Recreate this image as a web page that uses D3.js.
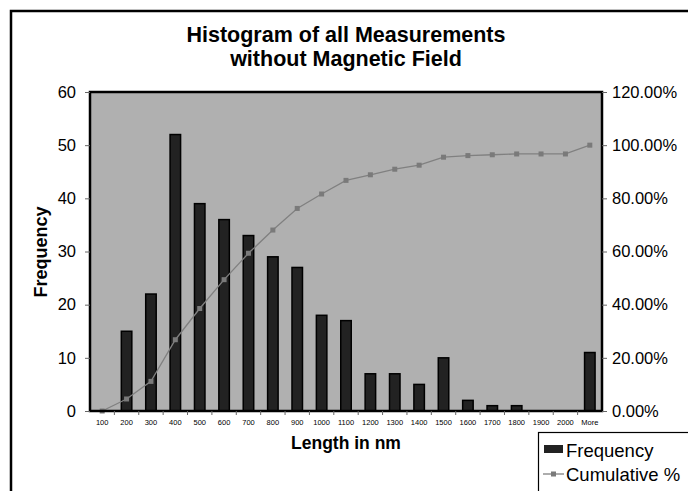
<!DOCTYPE html>
<html><head><meta charset="utf-8">
<script src="https://cdn.jsdelivr.net/npm/d3@7"></script>
<style>body{margin:0;background:#fff;}svg{display:block;font-family:"Liberation Sans",Arial,sans-serif;}</style>
</head><body>
<svg id="c" width="688" height="491"></svg>
<script>
const categories = ["100","200","300","400","500","600","700","800","900","1000","1100","1200","1300","1400","1500","1600","1700","1800","1900","2000","More"];
const frequency = [0,15,22,52,39,36,33,29,27,18,17,7,7,5,10,2,1,1,0,0,11];
const cumulative = [0,4.52,11.14,26.81,38.55,49.40,59.34,68.07,76.20,81.63,86.75,88.86,90.96,92.47,95.48,96.08,96.39,96.69,96.69,96.69,100];
const leftTicks = [0,10,20,30,40,50,60];
const rightTicks = [0,20,40,60,80,100,120];

const svg = d3.select("#c");
const L=90,R=602,T=92,B=411;

// outer chart border
svg.append("rect").attr("x",11).attr("y",11).attr("width",700).attr("height",500)
  .attr("fill","#fff").attr("stroke","#000").attr("stroke-width",2.5);

const x = d3.scaleBand().domain(categories).range([L,R]).paddingInner(0).paddingOuter(0);
const y = d3.scaleLinear().domain([0,60]).range([B,T]);
const y2 = d3.scaleLinear().domain([0,120]).range([B,T]);

// plot area
svg.append("rect").attr("x",L).attr("y",T).attr("width",R-L).attr("height",B-T).attr("fill","#b0b0b0");

// bars
const bw = 10.5;
svg.append("g").selectAll("rect").data(frequency).join("rect")
  .attr("x",(d,i)=>x(categories[i])+x.bandwidth()/2-bw/2)
  .attr("y",d=>y(d)).attr("width",bw).attr("height",d=>B-y(d))
  .attr("fill","#222").attr("stroke","#000").attr("stroke-width",1.5);

// cumulative line
const line = d3.line().x((d,i)=>x(categories[i])+x.bandwidth()/2).y(d=>y2(d));
svg.append("path").datum(cumulative).attr("d",line).attr("fill","none").attr("stroke","#808080").attr("stroke-width",1.3);
svg.append("g").selectAll("rect").data(cumulative).join("rect")
  .attr("x",(d,i)=>x(categories[i])+x.bandwidth()/2-2.5).attr("y",d=>y2(d)-2.5)
  .attr("width",5).attr("height",5).attr("fill","#7a7a7a");

// plot border
svg.append("rect").attr("x",L).attr("y",T).attr("width",R-L).attr("height",B-T)
  .attr("fill","none").attr("stroke","#000").attr("stroke-width",2.5);

const FF = "Liberation Sans, Arial, sans-serif";
// left axis
const ga = svg.append("g").attr("transform",`translate(${L},0)`)
  .call(d3.axisLeft(y).tickValues(leftTicks).tickSize(5).tickPadding(9));
ga.select(".domain").remove();
ga.selectAll("line").attr("stroke","#666");
ga.selectAll("text").attr("font-size",16.5).attr("fill","#000").attr("font-family",FF);

// right axis
const gr = svg.append("g").attr("transform",`translate(${R},0)`)
  .call(d3.axisRight(y2).tickValues(rightTicks).tickSize(5).tickPadding(5).tickFormat(d=>d.toFixed(2)+"%"));
gr.select(".domain").remove();
gr.selectAll("line").attr("stroke","#666");
gr.selectAll("text").attr("font-size",16.5).attr("fill","#000").attr("font-family",FF);

// x axis
const gx = svg.append("g").attr("transform",`translate(0,${B})`)
  .call(d3.axisBottom(x).tickSize(0).tickPadding(9));
gx.select(".domain").remove();
gx.selectAll("text").attr("font-size",7.5).attr("fill","#000").attr("font-family",FF);
svg.append("g").selectAll("line").data(categories.slice(1)).join("line")
  .attr("x1",d=>x(d)).attr("x2",d=>x(d)).attr("y1",B).attr("y2",B+4).attr("stroke","#666");

// titles
svg.append("text").attr("x",346).attr("y",42).attr("text-anchor","middle").attr("font-size",21.5).attr("font-weight","bold").text("Histogram of all Measurements");
svg.append("text").attr("x",346).attr("y",66).attr("text-anchor","middle").attr("font-size",21.5).attr("font-weight","bold").text("without Magnetic Field");
svg.append("text").attr("x",346).attr("y",449).attr("text-anchor","middle").attr("font-size",17.5).attr("font-weight","bold").text("Length in nm");
svg.append("text").attr("transform","translate(47,252) rotate(-90)").attr("text-anchor","middle").attr("font-size",18).attr("font-weight","bold").text("Frequency");

// legend
svg.append("rect").attr("x",538.5).attr("y",432.5).attr("width",160).attr("height",70).attr("fill","#fff").attr("stroke","#000").attr("stroke-width",1.2);
svg.append("rect").attr("x",544).attr("y",445).attr("width",19).attr("height",8).attr("fill","#222");
svg.append("text").attr("x",566).attr("y",457).attr("font-size",18.5).text("Frequency");
svg.append("line").attr("x1",543).attr("x2",564).attr("y1",474).attr("y2",474).attr("stroke","#808080").attr("stroke-width",1.3);
svg.append("rect").attr("x",551).attr("y",471.5).attr("width",5).attr("height",5).attr("fill","#7a7a7a");
svg.append("text").attr("x",566).attr("y",481).attr("font-size",18.5).text("Cumulative %");
</script>
</body></html>
